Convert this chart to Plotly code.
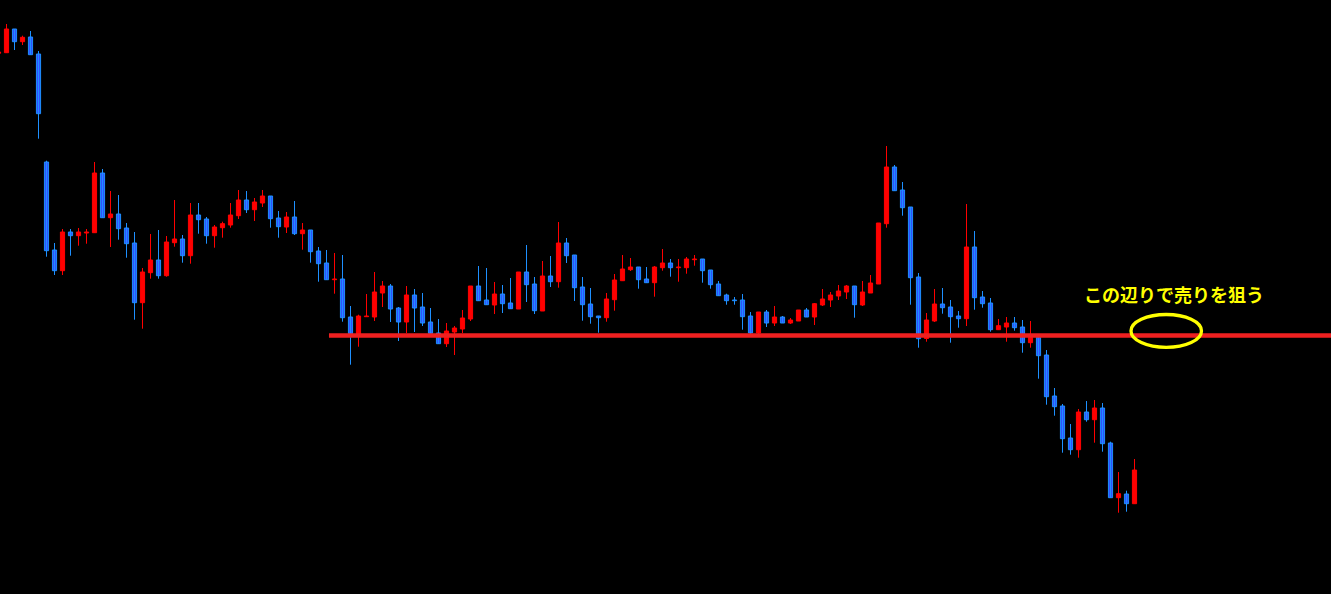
import plotly.graph_objects as go

# Candle data (price levels)
opens = [546.7, 547.3, 571, 558.3, 563, 546, 438, 350, 329.3, 368, 364.3, 367, 367.3, 427, 382.3, 386, 372, 357, 297.3, 327.3,
         340, 324.3, 357.3, 361, 344.3, 385, 381, 364.3, 372.3, 375, 384.3, 400, 390.3, 397, 404, 382, 373, 383, 366.3, 370,
         349, 337, 320.3, 321, 283, 266, 283.3, 283, 307, 314, 292, 278, 305, 293, 278, 267, 256.3, 268, 271, 281,
         314, 300, 295, 306, 297, 291, 328, 316, 289, 324, 318.3, 357, 345, 313, 296, 284, 282.3, 300.3, 319.3, 330.3,
         333, 321, 317.3, 332.3, 337, 332.3, 332.3, 340.3, 341, 330, 316, 305, 300, 300, 284, 267, 288, 277, 283, 277,
         279, 290, 283, 295, 300, 304, 308, 314, 295, 307, 316, 376.3, 433, 410, 393, 323, 261.5, 279, 296, 293,
         284, 281.3, 353, 303, 297, 270.3, 273, 277, 273, 257.3, 262.7, 245, 204, 194, 162, 150.3, 188, 180.3, 192, 157,
         102.3, 106, 96.3]
highs = [548, 576, 571, 564.3, 569, 549, 439.3, 357, 371, 371, 372, 371, 438, 431, 409, 405, 377, 368, 332, 366,
         370, 364, 400, 365, 397, 397, 383, 375, 378.3, 397, 410, 409, 402, 410, 404, 389, 388, 399, 377, 370,
         353, 350, 347, 345, 294, 285.3, 306, 328, 319, 316, 293, 314, 311, 307, 292, 281, 277, 274, 290, 314,
         334, 332, 318, 315, 322, 328, 355, 323, 339, 344, 378, 362, 345, 323, 312, 284, 307, 326, 345, 342,
         333, 333, 334, 351, 341, 341, 343, 345, 341, 330, 319, 306.3, 303, 306, 288, 288, 290, 294, 284, 282,
         290, 292, 297, 311, 308, 315, 315, 314, 319, 325, 377, 454, 435, 418, 393, 327, 287, 311, 312, 300,
         289, 396, 369, 309, 302, 281, 283, 283, 280, 279, 262.7, 250, 212, 196, 176, 191, 199, 200, 197, 158.3,
         128, 109.3, 141]
lows = [546.7, 547.3, 550, 555, 545.3, 461.3, 343.3, 325, 325, 344.3, 354.3, 356.3, 367.3, 382.3, 353, 360.3, 342.3, 280.3, 271.3, 321.3,
        321.3, 323.3, 353.3, 337.3, 336.3, 366.3, 356.3, 352.3, 362.3, 372.3, 381, 387, 379, 393, 372.3, 362.3, 367, 365, 350.3, 337.3,
        318.3, 320.3, 306.3, 278.3, 235.3, 253.3, 283.3, 279, 293, 278, 259, 267, 268, 274, 266.7, 256.3, 253, 245, 267, 279,
        299.3, 295.3, 286, 287, 291.3, 291, 298, 286, 289, 313, 312.3, 337, 299, 279.3, 276.3, 267.3, 278.3, 289.3, 319.3, 329,
        311.3, 317.3, 303.3, 329.3, 323.3, 318.3, 326.3, 334.3, 317.3, 311.3, 304.3, 295.3, 295.3, 270.3, 264, 264, 273, 274, 277, 276,
        279, 283, 275, 294, 293, 300, 301, 282.3, 294, 307, 316, 372.3, 409.3, 384.3, 295.3, 252.3, 258.3, 278, 286.3, 257.3,
        272.3, 274, 290.3, 292.3, 268.3, 270.3, 258.3, 269.3, 247.3, 252.3, 221.3, 195.3, 184.3, 147.3, 145.3, 142.3, 178.3, 157.3, 148.3, 102.3,
        87.3, 88.3, 96.3]
closes = [548, 571, 558.3, 562.7, 545.3, 486.3, 349.3, 329.3, 368, 364.3, 368, 368, 427, 382.3, 386, 371.3, 356.3, 297.3, 328, 340,
          324.3, 358, 361, 344.3, 385, 380.3, 364.3, 373, 376.3, 385, 400, 390.3, 398, 404, 381.3, 373.3, 383, 366.3, 370, 348.3,
          336.3, 320.3, 321, 282.3, 266.3, 284, 284, 308, 314, 291, 278, 305, 292, 277, 266.7, 256.3, 269, 272, 282, 314,
          299.3, 295.3, 306, 296.3, 291.3, 328, 315.3, 289.3, 324, 318.3, 357, 344.3, 312.3, 295.3, 283.3, 282.3, 301, 320, 331, 333,
          320.3, 317.3, 333, 337, 332.3, 333, 341, 341, 329.3, 315.3, 304.3, 299.3, 299.3, 283.3, 267, 288, 277, 283, 277, 280,
          290, 283, 296.3, 301, 305, 309, 314, 295.3, 308, 317, 377, 433, 409.3, 392.3, 322.3, 261.3, 280, 296, 292.3, 283.3,
          281.3, 353, 302.3, 296.3, 270.3, 274.3, 277, 272.3, 257.3, 262.7, 244.3, 203.3, 193.3, 161.3, 150.3, 188, 180.3, 192, 156.3, 102.3,
          106.3, 96.3, 130]

support_level = 264.5
label_text = "この辺りで売りを狙う"

n = len(opens)
idx = list(range(n))

UP = "#FF0000"
DOWN_FILL = "#3050FF"
DOWN_LINE = "#1E90FF"

fig = go.Figure()

# wicks
for up in (True, False):
    wx, wy = [], []
    for i in idx:
        is_up = closes[i] >= opens[i]
        if is_up != up:
            continue
        wx += [i, i, None]
        wy += [lows[i], highs[i], None]
    fig.add_trace(go.Scatter(x=wx, y=wy, mode="lines",
                             line=dict(color=UP if up else DOWN_LINE, width=1),
                             hoverinfo="skip", showlegend=False))

# bodies
for up in (True, False):
    bx, bb, bh = [], [], []
    for i in idx:
        is_up = closes[i] >= opens[i]
        if is_up != up:
            continue
        lo = min(opens[i], closes[i])
        hi = max(opens[i], closes[i])
        bx.append(i)
        bb.append(lo)
        bh.append(max(hi - lo, 0.3))
    fig.add_trace(go.Bar(x=bx, y=bh, base=bb, width=0.52,
                         marker=dict(color=UP if up else DOWN_FILL,
                                     line=dict(color=UP if up else DOWN_LINE, width=1)),
                         showlegend=False, hoverinfo="skip"))

# support line
fig.add_shape(type="line", xref="x", yref="y", x0=41.31, x1=170,
              y0=support_level, y1=support_level,
              line=dict(color="#EE2020", width=4.5))

# ellipse marking the sell zone
fig.add_shape(type="circle", xref="x", yref="y", x0=141.56, x1=150.375,
              y0=252.7, y1=285.5, line=dict(color="#FFFF00", width=3.3))

fig.add_annotation(x=1173.5 / 1331, y=1 - 293.5 / 594, xref="paper", yref="paper",
                   text="<b>" + label_text + "</b>", showarrow=False,
                   font=dict(family="Noto Sans CJK JP", size=18, color="#FFFF00"),
                   xanchor="center", yanchor="middle")

fig.update_layout(
    width=1331, height=594,
    margin=dict(l=0, r=0, t=0, b=0),
    paper_bgcolor="black", plot_bgcolor="black",
    showlegend=False, barmode="overlay",
    xaxis=dict(range=[0.1875, 166.5625], visible=False, fixedrange=True),
    yaxis=dict(range=[6, 600], visible=False, fixedrange=True),
)

fig.write_html(
    "out.html",
    config={"displayModeBar": False, "staticPlot": True},
    post_script="document.body.style.margin='0';document.body.style.padding='0';"
                "document.body.style.background='black';"
                "document.documentElement.style.background='black';"
                "document.body.style.overflow='hidden';",
)
